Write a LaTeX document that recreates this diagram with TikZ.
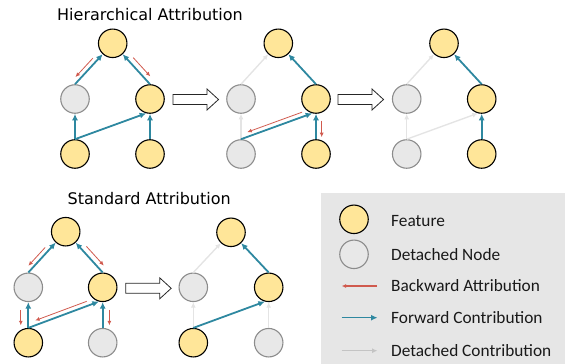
\documentclass[tikz,border=0pt]{standalone}
\usepackage{fontspec}
\setmainfont{Carlito}
\newfontfamily\titlefont{DejaVu Sans}
\usetikzlibrary{arrows.meta,calc}

\definecolor{featfill}{HTML}{FFE699}
\definecolor{detfill}{HTML}{E8E8E8}
\definecolor{detline}{HTML}{8C8C8C}
\definecolor{fwd}{HTML}{2E88A0}
\definecolor{bwd}{HTML}{D05A4E}
\definecolor{ghost}{HTML}{E4E4E4}
\definecolor{ghostkey}{HTML}{C4C4C4}
\definecolor{legbg}{HTML}{E6E6E6}

\tikzset{
  feat/.style={circle, draw=black, line width=1.1pt, fill=featfill, minimum size=28.5pt, inner sep=0pt},
  detn/.style={circle, draw=detline, line width=1.1pt, fill=detfill, minimum size=28.5pt, inner sep=0pt},
  fwdarr/.style={draw=fwd, line width=1.8pt, -{Latex[length=6.5pt,width=6pt]}},
  bwdarr/.style={draw=bwd, line width=0.8pt, -{Latex[length=4.5pt,width=4pt]}},
  ghostarr/.style={draw=ghost, line width=1.4pt, -{Latex[length=5.5pt,width=5pt]}},
  keyghost/.style={draw=ghostkey, line width=1.4pt, -{Latex[length=5.5pt,width=5pt]}},
  titletext/.style={font=\titlefont\fontsize{16}{19}\selectfont, inner sep=0pt, anchor=base west},
  keytext/.style={font=\fontsize{17.3}{20}\selectfont, inner sep=0pt, anchor=west, text=black!90},
  blockarrow/.pic={
    \draw[fill=white, draw=black!85, line width=0.8pt]
      (0,-5) -- (34,-5) -- (34,-10.5) -- (45.5,0) -- (34,10.5) -- (34,5) -- (0,5) -- cycle;
  }
}

% backward attribution drawn beside the line #1 -- #2:
% #3 offset, #4 side angle, #5/#6 start and end fractions along the line
\newcommand\backattr[6]{%
  \draw[bwdarr] ($(#1)!#5!(#2)!#3!#4:(#2)$) -- ($(#1)!#6!(#2)!#3!#4:(#2)$);}

\begin{document}
\begin{tikzpicture}[x=1pt, y=-1pt]
\useasboundingbox (0,0) rectangle (565,364);

% ---------- Hierarchical attribution ----------
\node[titletext] (htitle) at (57,20.7) {Hierarchical Attribution};

% step 1
\node[feat] (a1) at (112.7,43.3) {};
\node[detn] (l1) at (75,99) {};
\node[feat] (r1) at (150,99) {};
\node[feat] (p1) at (75,154) {};
\node[feat] (q1) at (150,154) {};
\draw[fwdarr] (l1.north) -- (a1);
\draw[fwdarr] (r1.north) -- (a1);
\draw[fwdarr] (p1.north) -- (l1.south);
\draw[fwdarr] (p1.north) -- (r1.255);
\draw[fwdarr] (q1.north) -- (r1.south);
\backattr{a1}{l1.north}{4.5pt}{-90}{0.44}{0.9}
\backattr{a1}{r1.north}{5.5pt}{90}{0.44}{0.9}

\pic at (173,99.5) {blockarrow};

% step 2
\node[feat] (a2) at (278.3,43.3) {};
\node[detn] (l2) at (241,99) {};
\node[feat] (r2) at (316,99) {};
\node[detn] (p2) at (241,154) {};
\node[feat] (q2) at (316,154) {};
\draw[ghostarr] (l2.north) -- (a2);
\draw[ghostarr] (p2.north) -- (l2.south);
\draw[fwdarr] (r2.north) -- (a2);
\draw[fwdarr] (p2.north) -- (r2.255);
\draw[fwdarr] (q2.north) -- (r2.south);
\backattr{r2.255}{p2.north}{4.5pt}{-90}{0.12}{0.89}
\backattr{r2.south}{q2.north}{5.7pt}{90}{0.27}{0.92}

\pic at (338,99.5) {blockarrow};

% step 3
\node[feat] (a3) at (444,43.3) {};
\node[detn] (l3) at (406.7,99) {};
\node[feat] (r3) at (481.7,99) {};
\node[detn] (p3) at (406.7,154) {};
\node[feat] (q3) at (481.7,154) {};
\draw[ghostarr] (l3.north) -- (a3);
\draw[ghostarr] (p3.north) -- (l3.south);
\draw[ghostarr] (p3.north) -- (r3.255);
\draw[fwdarr] (r3.north) -- (a3);
\draw[fwdarr] (q3.north) -- (r3.south);

% ---------- Standard attribution ----------
\node[titletext] (stitle) at (67.5,204) {Standard Attribution};

\node[feat] (a4) at (65.7,231.7) {};
\node[detn] (l4) at (28.3,287.3) {};
\node[feat] (r4) at (102.7,287.3) {};
\node[feat] (p4) at (28.3,342.7) {};
\node[detn] (q4) at (102.7,342.7) {};
\draw[fwdarr] (l4.north) -- (a4);
\draw[fwdarr] (r4.north) -- (a4);
\draw[fwdarr] (p4.north) -- (l4.south);
\draw[fwdarr] (p4.north) -- (r4.255);
\draw[fwdarr] (q4.north) -- (r4.south);
\backattr{a4}{l4.north}{4.5pt}{-90}{0.46}{0.91}
\backattr{a4}{r4.north}{5.5pt}{90}{0.45}{0.92}
\backattr{l4.south}{p4.north}{7.5pt}{-90}{0.3}{0.9}
\backattr{r4.south}{q4.north}{6.7pt}{90}{0.3}{0.9}
\backattr{r4.255}{p4.north}{4.5pt}{-90}{0.15}{0.88}

\pic at (125.7,288.3) {blockarrow};

\node[feat] (a5) at (231,232.3) {};
\node[detn] (l5) at (193.3,287.3) {};
\node[feat] (r5) at (268.7,287.3) {};
\node[feat] (p5) at (193.3,342.7) {};
\node[detn] (q5) at (268.7,342.7) {};
\draw[ghostarr] (l5.north) -- (a5);
\draw[ghostarr] (p5.north) -- (l5.south);
\draw[ghostarr] (q5.north) -- (r5.south);
\draw[fwdarr] (r5.north) -- (a5);
\draw[fwdarr] (p5.north) -- (r5.255);

% ---------- Key ----------
\fill[legbg] (320.7,193.3) rectangle (565,364);
\node[feat] (kfeat) at (354,219.3) {};
\node[detn] (kdet) at (354,254.3) {};
\coordinate (kb0) at (341.7,286);  \coordinate (kb1) at (377,286);
\coordinate (kf0) at (341.7,317.7); \coordinate (kf1) at (377.5,317.7);
\coordinate (kg0) at (341.7,350.7); \coordinate (kg1) at (377.5,350.7);
\draw[bwdarr, line width=1.1pt] (kb1) -- (kb0);
\draw[fwdarr, line width=1.4pt] (kf0) -- (kf1);
\draw[keyghost] (kg0) -- (kg1);
\node[keytext] (tfeat) at (391,220.7) {Feature};
\node[keytext] (tdet) at (391,255) {Detached Node};
\node[keytext] (tbwd) at (391,286) {Backward Attribution};
\node[keytext] (tfwd) at (391,317.7) {Forward Contribution};
\node[keytext] (tghost) at (391,350.7) {Detached Contribution};
\end{tikzpicture}
\end{document}
